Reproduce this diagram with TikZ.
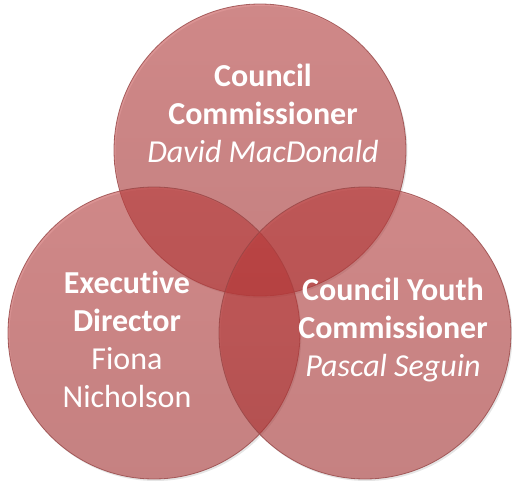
\documentclass[tikz,border=0pt]{standalone}
\usepackage{fontspec}
\setmainfont[RawFeature={-liga;-clig;-calt;-dlig}]{Carlito}
\begin{document}
\begin{tikzpicture}[x=0.75pt,y=-0.75pt,
  venn/.style={circle, minimum size=292*0.75pt, inner sep=0pt,
    draw={rgb,255:red,150;green,70;blue,70}, line width=0.6pt,
    top color={rgb,255:red,190;green,60;blue,60},
    bottom color={rgb,255:red,172;green,48;blue,48},
    fill opacity=0.55, draw opacity=0.8},
  shadowc/.style={circle, minimum size=292*0.75pt, inner sep=0pt,
    fill=black, fill opacity=0.10},
  lbl/.style={text=white, align=center, font=\fontsize{24pt}{28.5pt}\selectfont, inner sep=0pt}
]
\useasboundingbox (0,0) rectangle (512,482);
% shadows
\node[shadowc] at (261.5,152) {};
\node[shadowc] at (155.5,335) {};
\node[shadowc] at (366.5,335) {};
% circles
\node[venn] (top) at (260,150) {};
\node[venn] (left) at (154,333) {};
\node[venn] (right) at (365,333) {};
% labels
\node[lbl] (ttop) at (263,113) {\textbf{Council}\\\textbf{Commissioner}\\\textit{David MacDonald}};
\node[lbl] (tleft) at (127,339) {\textbf{Executive}\\\textbf{Director}\\Fiona\\Nicholson};
\node[lbl] (tright) at (393,330) {\textbf{Council Youth}\\\textbf{Commissioner}\\\textit{Pascal Seguin}};
\end{tikzpicture}
\end{document}
